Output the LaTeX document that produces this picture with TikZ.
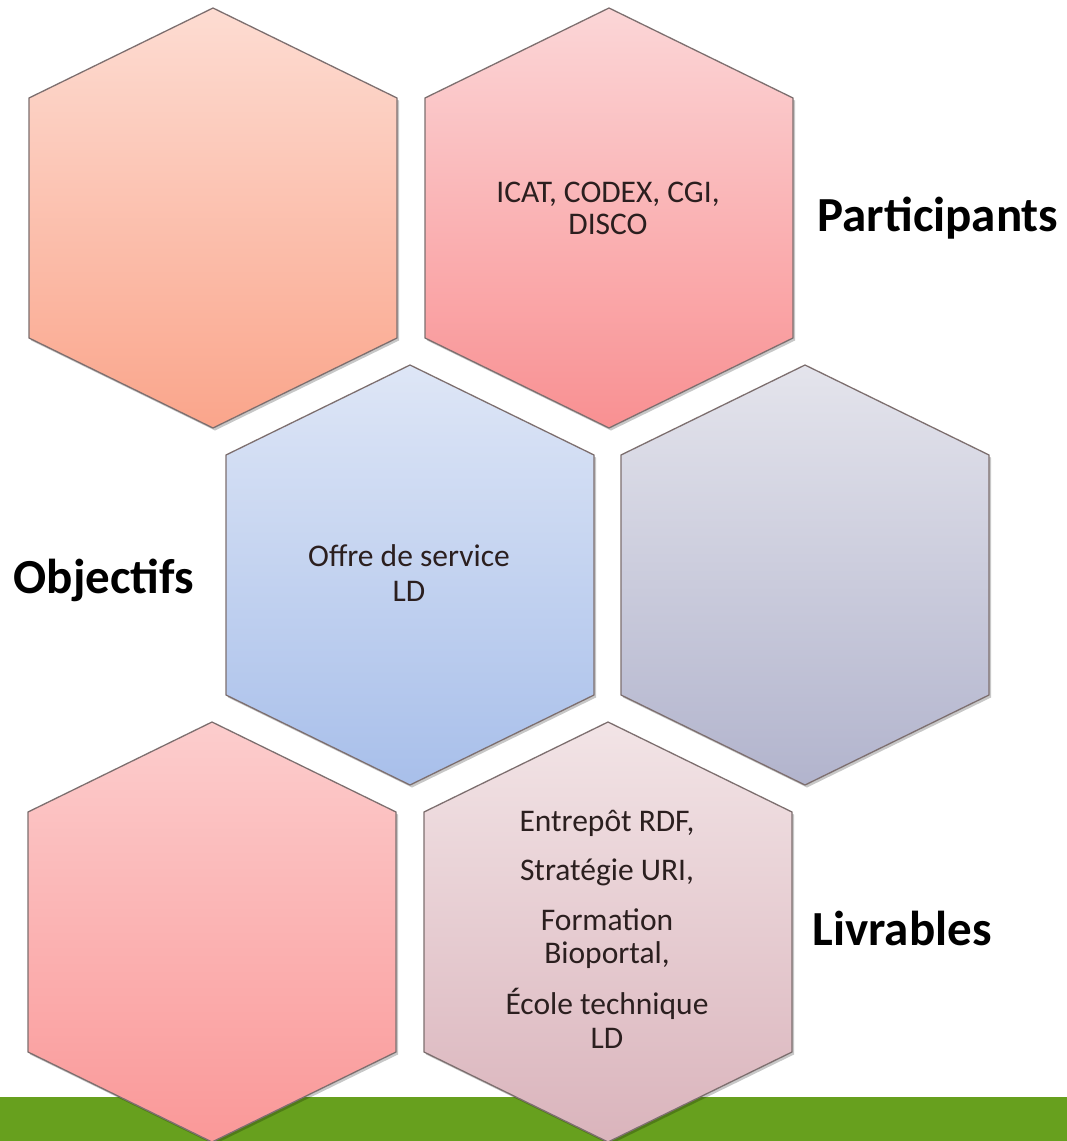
\documentclass[tikz,border=0pt]{standalone}
\usepackage{fontspec}
\setmainfont{Carlito}
\usetikzlibrary{shadows}
\definecolor{hexline}{HTML}{7D6F6F}
\definecolor{hexink}{HTML}{2B1F1F}
\definecolor{barfill}{HTML}{67A01E}
\definecolor{hAtop}{HTML}{FDDCD2}\definecolor{hAbot}{HTML}{FAA58B}
\definecolor{hBtop}{HTML}{FBD6D7}\definecolor{hBbot}{HTML}{F99092}
\definecolor{hCtop}{HTML}{DEE6F6}\definecolor{hCbot}{HTML}{A8BFEA}
\definecolor{hDtop}{HTML}{E4E4EC}\definecolor{hDbot}{HTML}{B2B4CD}
\definecolor{hEtop}{HTML}{FCCDCD}\definecolor{hEbot}{HTML}{FA9898}
\definecolor{hFtop}{HTML}{F2E4E6}\definecolor{hFbot}{HTML}{DAB4BC}
\newcommand\drawhex[3]{\path[hexbox,#3] (#1,#2) -- ++(184,90) -- ++(0,240) -- ++(-184,90) -- ++(-184,-90) -- ++(0,-240) -- cycle;}
\begin{document}
\begin{tikzpicture}[x=1pt,y=-1pt,
  hexbox/.style={draw=hexline, line width=1.3pt, line join=miter,
    drop shadow={shadow xshift=2pt, shadow yshift=-2.5pt, opacity=0.22, fill=black}},
  hextext/.style={anchor=base, text=hexink, inner sep=0pt, font=\fontsize{31.5}{34}\selectfont},
  sidelabel/.style={anchor=base, text=black, inner sep=0pt, font=\fontsize{49}{56}\selectfont\bfseries}]
\useasboundingbox (0,0) rectangle (1067,1141);
\fill[white] (0,0) rectangle (1067,1141);
% top row
\drawhex{213}{8}{top color=hAtop, bottom color=hAbot}
\drawhex{609}{8}{top color=hBtop, bottom color=hBbot}
% middle row
\drawhex{410}{365}{top color=hCtop, bottom color=hCbot}
\drawhex{805}{365}{top color=hDtop, bottom color=hDbot}
% green band
\fill[barfill] (0,1097) rectangle (1067,1141);
% bottom row
\drawhex{212}{722}{top color=hEtop, bottom color=hEbot}
\drawhex{608}{722}{top color=hFtop, bottom color=hFbot}
% hexagon texts
\node[hextext] (pa) at (608,202) {ICAT, CODEX, CGI,};
\node[hextext] (pb) at (608,234) {DISCO};
\node[hextext] (oa) at (409,566) {Offre de service};
\node[hextext] (ob) at (409,601) {LD};
\node[hextext] (la) at (607,831) {Entrepôt RDF,};
\node[hextext] (lb) at (607,880) {Stratégie URI,};
\node[hextext] (lc) at (607,930) {Formation};
\node[hextext] (ld) at (607,963) {Bioportal,};
\node[hextext] (le) at (607,1014) {École technique};
\node[hextext] (lf) at (607,1048) {LD};
% side labels
\node[sidelabel] (part) at (938,231) {Participants};
\node[sidelabel] (obj) at (104,593) {Objectifs};
\node[sidelabel] (livr) at (902,945) {Livrables};
\end{tikzpicture}
\end{document}
